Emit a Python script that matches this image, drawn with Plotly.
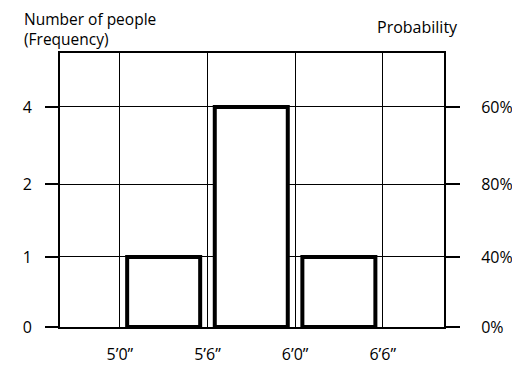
import plotly.graph_objects as go

# Data
height_centers = [63, 69, 75]          # inches (bins 5'0"-5'6", 5'6"-6'0", 6'0"-6'6")
frequencies = [1, 4, 1]
x_tick_vals = [60, 66, 72, 78]
x_tick_text = ["5’0”", "5’6”", "6’0”", "6’6”"]
y_tick_text = ["0", "1", "2", "4"]
y2_tick_text = ["0%", "40%", "80%", "60%"]

# axis layout: positions of the (unevenly labelled) y ticks
y_tick_pos = [0, 1, 2.04, 3.14]
bar_heights = [y_tick_pos[y_tick_text.index(str(f))] for f in frequencies]

FONT = "Open Sans"

fig = go.Figure()
fig.add_trace(go.Bar(
    x=height_centers, y=bar_heights, width=5.0,
    marker=dict(color="white", line=dict(color="black", width=4)),
    showlegend=False, hoverinfo="skip",
))
fig.add_trace(go.Scatter(x=[height_centers[0]], y=[0], yaxis="y2", mode="markers",
                         marker=dict(opacity=0), showlegend=False, hoverinfo="skip"))

fig.update_layout(
    width=520, height=382,
    margin=dict(l=52, r=84, t=45, b=63),
    plot_bgcolor="white", paper_bgcolor="white",
    font=dict(family=FONT, size=16, color="black"),
    xaxis=dict(range=[55.9, 82.2], tickvals=x_tick_vals, ticktext=x_tick_text,
               showgrid=True, gridcolor="black", gridwidth=1.3,
               showline=True, linecolor="black", linewidth=2, mirror=True,
               ticks="", ticklabelstandoff=12, zeroline=False, automargin=False,
               tickfont=dict(size=16, family=FONT)),
    yaxis=dict(range=[0, 3.91], tickvals=y_tick_pos, ticktext=y_tick_text,
               showgrid=True, gridcolor="black", gridwidth=1.3,
               showline=True, linecolor="black", linewidth=2, mirror=True,
               ticks="outside", ticklen=13, tickwidth=2, tickcolor="black",
               zeroline=False, ticklabelstandoff=10, automargin=False,
               tickfont=dict(size=16, family=FONT)),
    yaxis2=dict(range=[0, 3.91], tickvals=y_tick_pos, ticktext=y2_tick_text,
                overlaying="y", side="right", showgrid=False, zeroline=False,
                ticks="outside", ticklen=14, tickwidth=2, tickcolor="black",
                ticklabelstandoff=18, showline=True, linecolor="black", linewidth=2,
                automargin=False,
                tickfont=dict(size=16, family=FONT)),
    annotations=[
        dict(text="Number of people<br>(Frequency)", xref="paper", yref="paper",
             x=-0.1, y=1.17, xanchor="left", yanchor="top", align="left",
             showarrow=False, font=dict(size=15.5, family=FONT)),
        dict(text="Probability", xref="paper", yref="paper",
             x=1.0, y=1.095, xanchor="left", yanchor="middle",
             xshift=-69, showarrow=False, font=dict(size=16, family=FONT)),
    ],
)

fig.write_html("out.html")
